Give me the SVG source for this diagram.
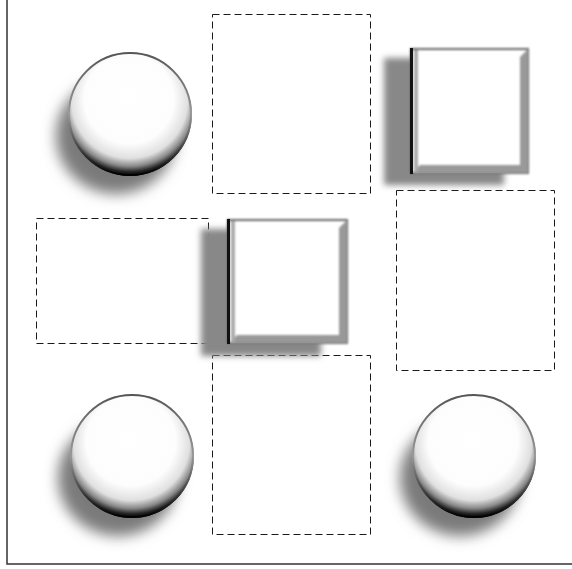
<svg xmlns="http://www.w3.org/2000/svg" width="572" height="569" viewBox="0 0 572 569">
<style>
.dash{fill:none;stroke:#1a1a1a;stroke-width:1;stroke-dasharray:7 4}
.frame{fill:none;stroke:#333;stroke-width:1.5}
</style>
<defs>
<filter id="blur" x="-50%" y="-50%" width="200%" height="200%"><feGaussianBlur stdDeviation="7"/></filter>
<filter id="blur2" x="-50%" y="-50%" width="200%" height="200%"><feGaussianBlur stdDeviation="3"/></filter>
<filter id="soft" x="-20%" y="-20%" width="140%" height="140%"><feGaussianBlur stdDeviation="0.8"/></filter>
<radialGradient id="ball" cx="0.5" cy="0.4" r="0.6" fx="0.48" fy="0.35">
<stop offset="0" stop-color="#fff"/>
<stop offset="0.6" stop-color="#fdfdfd"/>
<stop offset="0.78" stop-color="#e0e0e0"/>
<stop offset="0.88" stop-color="#888"/>
<stop offset="0.95" stop-color="#222"/>
<stop offset="1" stop-color="#000"/>
</radialGradient>
<linearGradient id="rim" x1="0" y1="0" x2="0" y2="1">
<stop offset="0" stop-color="#555"/>
<stop offset="0.5" stop-color="#999"/>
<stop offset="1" stop-color="#000"/>
</linearGradient>
<g id="ballshape">
<circle cx="0" cy="0" r="62" fill="url(#ball)"/>
<circle cx="0" cy="0" r="61" fill="none" stroke="url(#rim)" stroke-width="2"/>
</g>
</defs>
<g id="frame"><path class="frame" d="M7,0 V564 H572"/></g>
<g id="connectors"></g>
<g id="box-top"><rect class="dash" x="212.5" y="14.5" width="158" height="179"/></g>
<g id="box-left"><rect class="dash" x="36.5" y="218.5" width="172" height="125"/></g>
<g id="box-right"><rect class="dash" x="396.5" y="190.5" width="158" height="180"/></g>
<g id="box-bottom"><rect class="dash" x="212.5" y="355.5" width="158" height="179"/></g>
<g id="ball-top-left">
<ellipse cx="116" cy="136" rx="60" ry="58" fill="#7a7a7a" filter="url(#blur)"/>
<use href="#ballshape" x="130" y="114"/>
</g>
<g id="ball-bottom-left">
<ellipse cx="118" cy="478" rx="60" ry="58" fill="#7a7a7a" filter="url(#blur)"/>
<use href="#ballshape" x="132" y="456"/>
</g>
<g id="ball-bottom-right">
<ellipse cx="460" cy="478" rx="60" ry="58" fill="#7a7a7a" filter="url(#blur)"/>
<use href="#ballshape" x="474" y="456"/>
</g>
<g id="square-top-right">
<rect x="384" y="58" width="120" height="127" fill="#888" filter="url(#blur2)"/>
<rect x="411" y="49" width="117" height="124" fill="#fff"/>
<g filter="url(#soft)">
<path d="M411,49 H528 V173 H411 Z" fill="none" stroke="#666" stroke-width="2"/>
<path d="M528,49 V173 H413 L420,165 H520 V57 Z" fill="#999"/>
<rect x="414" y="50" width="4" height="122" fill="#aaa"/>
</g>
<rect x="410" y="48" width="3" height="126" fill="#111"/>
</g>
<g id="square-middle">
<rect x="201" y="229" width="120" height="127" fill="#888" filter="url(#blur2)"/>
<rect x="228" y="220" width="119" height="123" fill="#fff"/>
<g filter="url(#soft)">
<path d="M228,220 H347 V343 H228 Z" fill="none" stroke="#666" stroke-width="2"/>
<path d="M347,220 V343 H230 L237,335 H339 V228 Z" fill="#999"/>
<rect x="231" y="221" width="4" height="121" fill="#aaa"/>
</g>
<rect x="227" y="219" width="3" height="125" fill="#111"/>
</g>
</svg>
